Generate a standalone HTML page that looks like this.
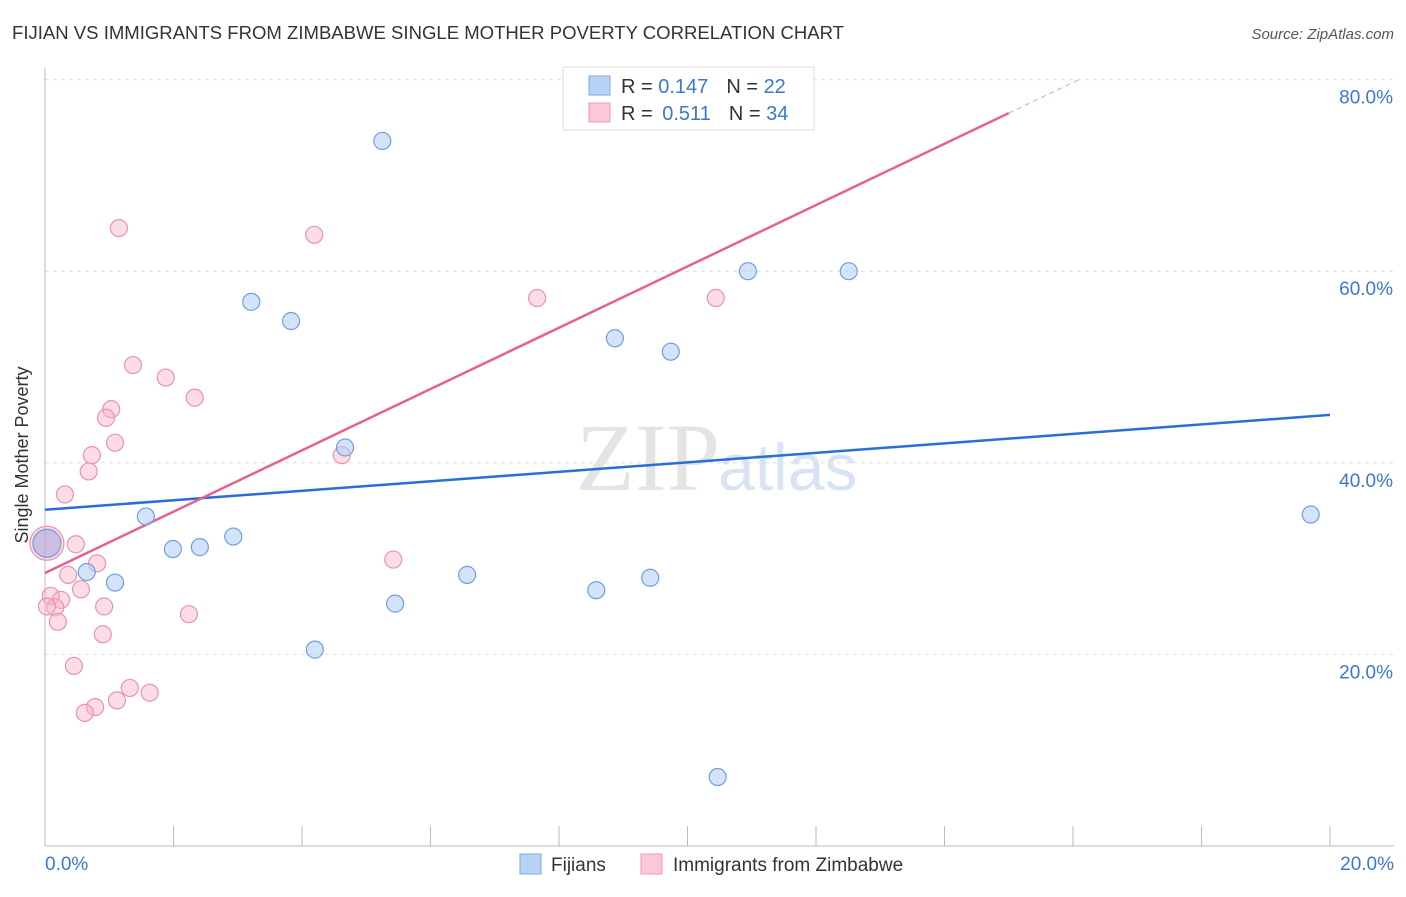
<!DOCTYPE html>
<html><head><meta charset="utf-8"><style>
body{margin:0;background:#fff;font-family:"Liberation Sans",sans-serif;}
</style></head><body>
<svg width="1406" height="892" xmlns="http://www.w3.org/2000/svg" font-family="Liberation Sans, sans-serif">
<text x="12" y="39" font-size="18" fill="#333" textLength="832" lengthAdjust="spacingAndGlyphs">FIJIAN VS IMMIGRANTS FROM ZIMBABWE SINGLE MOTHER POVERTY CORRELATION CHART</text>
<text x="1394" y="39" font-size="15" fill="#555" font-style="italic" text-anchor="end">Source: ZipAtlas.com</text>
<g id="grid"></g>
<text x="720" y="490" font-size="96" fill="#e4e4e4" text-anchor="end" font-family="Liberation Serif, serif">ZIP</text>
<text x="718" y="490" font-size="66" fill="#d8e4f4">atlas</text>
<g id="axes"></g>
<g id="lines"></g>
<g id="pts"></g>
<text x="28" y="455" font-size="18" fill="#333" text-anchor="middle" transform="rotate(-90 28 455)">Single Mother Poverty</text>
<g>
<rect x="563" y="67" width="251" height="63" fill="#fff" stroke="#ddd"/>
<rect x="589" y="76" width="21" height="19" fill="#b8d3f5" stroke="#7aa8e8"/>
<rect x="589" y="103" width="21" height="19" fill="#fac8d6" stroke="#ee9ab3"/>
<text x="621" y="93" font-size="20" fill="#333">R = <tspan fill="#3a78d0">0.147</tspan><tspan dx="18">N = </tspan><tspan fill="#3a78d0">22</tspan></text>
<text x="621" y="120" font-size="20" fill="#333">R = <tspan fill="#3a78d0" dx="4">0.511</tspan><tspan dx="18">N = </tspan><tspan fill="#3a78d0">34</tspan></text>
</g>
<g>
<rect x="520" y="854" width="21" height="20" fill="#b8d3f5" stroke="#7aa8e8"/>
<text x="551" y="871" font-size="19" fill="#333">Fijians</text>
<rect x="641" y="854" width="21" height="20" fill="#fac8d6" stroke="#ee9ab3"/>
<text x="673" y="871" font-size="19" fill="#333">Immigrants from Zimbabwe</text>
</g>
</svg>
<script>
const blueX=[5.25,3.21,3.83,10.94,12.51,8.87,9.74,4.67,1.57,1.99,2.41,2.93,0.65,1.09,6.57,5.45,8.58,9.42,4.20,10.47,19.70,0.03];
const blueY=[73.6,56.8,54.8,60.0,60.0,53.0,51.6,41.6,34.4,31.0,31.2,32.3,28.6,27.5,28.3,25.3,26.7,28.0,20.5,7.2,34.6,31.6];
const pinkX=[1.15,4.19,7.66,10.44,1.37,1.88,2.33,1.03,0.95,1.09,0.73,0.68,4.62,0.31,0.48,0.03,0.81,0.36,0.56,0.09,0.25,0.16,0.92,0.20,0.90,2.24,5.42,0.45,1.32,1.63,1.12,0.78,0.62,0.03];
const pinkY=[64.5,63.8,57.2,57.2,50.2,48.9,46.8,45.6,44.7,42.1,40.8,39.1,40.8,36.7,31.5,31.6,29.5,28.3,26.8,26.1,25.7,24.9,25.0,23.4,22.1,24.2,29.9,18.8,16.5,16.0,15.2,14.5,13.9,25.0];
const yTicks=[20,40,60,80];
const xTickVals=[0,2,4,6,8,10,12,14,16,18,20];
const blueLine=[35.1,45.0];
const pinkLine=[28.5,3.2];
const X=v=>45+v*64.25, Y=v=>846-v*9.58;
const NS='http://www.w3.org/2000/svg';
function mk(p,t,a){const e=document.createElementNS(NS,t);for(const k in a)e.setAttribute(k,a[k]);p.appendChild(e);return e;}
const grid=document.getElementById('grid'),axes=document.getElementById('axes'),lines=document.getElementById('lines'),pts=document.getElementById('pts');
yTicks.forEach(t=>{const l=mk(grid,'line',{x1:45,x2:1394,y1:Y(t),y2:Y(t),stroke:'#ddd','stroke-dasharray':'4 4'});


const tx=mk(axes,'text',{x:1393,y:Y(t)+24,'font-size':19,fill:'#3a78d0','text-anchor':'end'});tx.textContent=t.toFixed(1)+'%';

});
const ya=mk(axes,'line',{x1:45,x2:45,y1:68,y2:846,stroke:'#bbb'});


const xa=mk(axes,'line',{x1:45,x2:1394,y1:846,y2:846,stroke:'#bbb'});


xTickVals.forEach(t=>{const l=mk(axes,'line',{x1:X(t),x2:X(t),y1:826,y2:846,stroke:'#bbb'});

});
[[0,'start'],[20,'end']].forEach(([t,a])=>{const tx=mk(axes,'text',{x:t==0?45:1394,y:870,'font-size':19,fill:'#3a78d0','text-anchor':a});tx.textContent=t.toFixed(1)+'%';

});
const bl=mk(lines,'line',{x1:X(0),y1:Y(blueLine[0]),x2:X(20),y2:Y(blueLine[1]),stroke:'#2a6fd4','stroke-width':2.5});


const xe=(80-pinkLine[0])/pinkLine[1];
const pl=mk(lines,'line',{x1:X(0),y1:Y(pinkLine[0]),x2:X(15),y2:Y(pinkLine[0]+pinkLine[1]*15),stroke:'#e8608e','stroke-width':2.5});


const pd=mk(lines,'line',{x1:X(15),y1:Y(pinkLine[0]+pinkLine[1]*15),x2:X(xe),y2:Y(80),stroke:'#e8a0b8','stroke-width':1,'stroke-dasharray':'5 4'});


pinkX.forEach((x,i)=>{const big=i==15;const c=mk(pts,'circle',{cx:X(x),cy:Y(pinkY[i]),r:big?17:8.5,fill:'rgba(248,180,200,0.45)',stroke:'#ea93ae','stroke-width':1.2});

});
blueX.forEach((x,i)=>{const big=i==21;const c=mk(pts,'circle',{cx:X(x),cy:Y(blueY[i]),r:big?14:8.5,fill:big?'rgba(170,170,220,0.6)':'rgba(175,205,245,0.55)',stroke:'#6e9fe0','stroke-width':1.2});

});
</script>
</body></html>
